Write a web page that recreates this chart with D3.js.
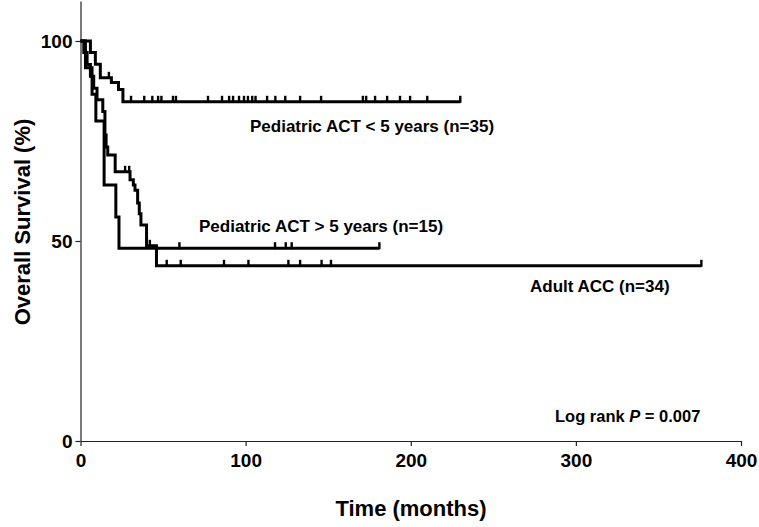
<!DOCTYPE html>
<html lang="en">

<head>
  <meta charset="UTF-8">
  <title>Overall Survival</title>
  <script src="https://d3js.org/d3.v7.min.js"></script>
  <style>
    body {
      margin: 0;
      background: white;
      font-family: "Liberation Sans", Arial, sans-serif;
    }

    svg {
      display: block;
    }

    .axis text {
      font-family: "Liberation Sans", Arial, sans-serif;
      font-size: 19px;
      font-weight: bold;
      fill: black;
    }

    .axis path,
    .axis line {
      stroke: #222;
      stroke-width: 1.2px;
    }

    .label {
      font-weight: bold;
      font-size: 17px;
    }
  </style>
</head>

<body>
  <svg width="759" height="527"></svg>

  <script>
    // step curves: time (months) where the curve drops, survival (%) after the drop
    const pedLt5Times = [0, 6, 9, 12, 18.7, 23, 25.7];
    const pedLt5Surv = [100, 97.1, 94.2, 90.8, 89.6, 87.9, 84.8];
    const pedLt5End = 230;
    const pedLt5Censor = [17.2, 30.6, 38.6, 43.5, 47, 49, 56, 57.8, 77.2, 85.7, 90, 92.4, 96, 99, 101.4,
      104, 106, 113, 118, 124, 133, 145.7, 171, 173, 178.4, 185.7, 193.5, 199.6, 210, 230];

    const pedGt5Times = [0, 3, 7, 9.3, 14.3, 21.4, 23.3];
    const pedGt5Surv = [100, 93.3, 86.7, 80, 64, 56, 48.2];
    const pedGt5End = 181;
    const pedGt5Censor = [59.9, 117.8, 124.3, 127.9, 181];

    const adultTimes = [0, 2, 4, 6, 8, 10, 13.5, 14.8, 15.5, 16.5, 21, 30, 32, 33, 34.6, 35.6, 36.6, 40, 46];
    const adultSurv = [100, 97.1, 94.1, 91.2, 88.2, 85.3, 82.4, 76.5, 73.5, 71.5, 67.3, 65.3, 64, 62.7, 59.5, 56.8, 54, 48.8, 43.8];
    const adultEnd = 376;
    const adultCensor = [27, 29.5, 42, 52.2, 60.7, 86.9, 101.7, 125.9, 133, 146, 151.7, 376];

    const xTicks = [0, 100, 200, 300, 400];
    const yTicks = [0, 50, 100];

    const svg = d3.select("svg");

    const x = d3.scaleLinear().domain([0, 400]).range([80.5, 741]);
    const y = d3.scaleLinear().domain([0, 110]).range([441, 1]);

    // axes
    svg.append("g")
      .attr("class", "axis")
      .attr("transform", `translate(0,${y(0)})`)
      .call(d3.axisBottom(x).tickValues(xTicks).tickSize(5).tickSizeOuter(0).tickPadding(8));

    svg.append("g")
      .attr("class", "axis")
      .attr("transform", `translate(${x(0)},0)`)
      .call(d3.axisLeft(y).tickValues(yTicks).tickSize(5).tickSizeOuter(0).tickPadding(3))
      .selectAll(".tick text").attr("dy", "0.36em");

    function survAt(times, surv, t) {
      let s = surv[0];
      times.forEach((tt, i) => { if (tt <= t) s = surv[i]; });
      return s;
    }

    const line = d3.line()
      .x(d => x(d[0]))
      .y(d => y(d[1]))
      .curve(d3.curveStepAfter);

    function drawCurve(times, surv, end, censor) {
      const pts = times.map((t, i) => [t, surv[i]]);
      pts.push([end, surv[surv.length - 1]]);

      svg.append("path")
        .attr("d", line(pts))
        .attr("fill", "none")
        .attr("stroke", "black")
        .attr("stroke-width", 3)
        .attr("stroke-linejoin", "miter");

      svg.append("g").selectAll("line")
        .data(censor)
        .enter().append("line")
        .attr("x1", d => x(d))
        .attr("x2", d => x(d))
        .attr("y1", d => y(survAt(times, surv, d)) + 1)
        .attr("y2", d => y(survAt(times, surv, d)) - 6)
        .attr("stroke", "black")
        .attr("stroke-width", 2.4);
    }

    drawCurve(adultTimes, adultSurv, adultEnd, adultCensor);
    drawCurve(pedGt5Times, pedGt5Surv, pedGt5End, pedGt5Censor);
    drawCurve(pedLt5Times, pedLt5Surv, pedLt5End, pedLt5Censor);

    // curve labels
    svg.append("text").attr("class", "label").attr("x", 250).attr("y", 132)
      .text("Pediatric ACT < 5 years (n=35)");
    svg.append("text").attr("class", "label").attr("x", 199).attr("y", 232)
      .text("Pediatric ACT > 5 years (n=15)");
    svg.append("text").attr("class", "label").attr("x", 530).attr("y", 292)
      .text("Adult ACC (n=34)");

    const lr = svg.append("text").attr("class", "label").attr("x", 555).attr("y", 422)
      .style("font-size", "16.5px");
    lr.append("tspan").text("Log rank ");
    lr.append("tspan").style("font-style", "italic").text("P");
    lr.append("tspan").text(" = 0.007");

    // axis titles
    svg.append("text")
      .attr("x", 411).attr("y", 516)
      .attr("text-anchor", "middle")
      .style("font-weight", "bold").style("font-size", "22px")
      .text("Time (months)");

    svg.append("text")
      .attr("transform", "translate(30,222) rotate(-90)")
      .attr("text-anchor", "middle")
      .style("font-weight", "bold").style("font-size", "22px")
      .text("Overall Survival (%)");
  </script>
</body>

</html>
